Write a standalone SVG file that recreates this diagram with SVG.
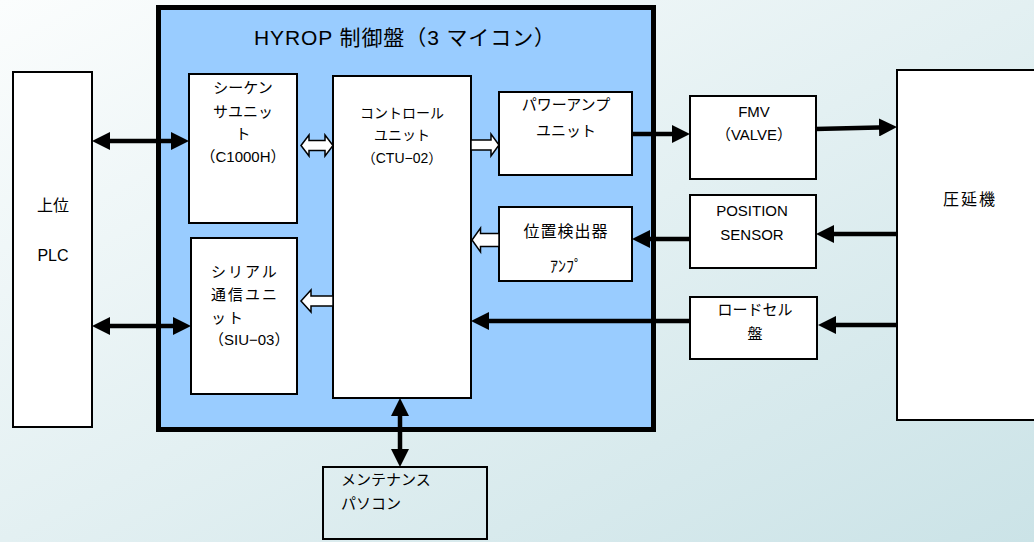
<svg xmlns="http://www.w3.org/2000/svg" width="1034" height="542" viewBox="0 0 1034 542">
<defs>
<linearGradient id="bg" x1="0" y1="0" x2="1" y2="1">
<stop offset="0" stop-color="#fbfdfd"/>
<stop offset="1" stop-color="#cbe3e7"/>
</linearGradient>
<marker id="ah" viewBox="0 0 18 18" refX="10" refY="9" markerWidth="18" markerHeight="18" markerUnits="userSpaceOnUse" orient="auto-start-reverse">
<path d="M0,0 L18,9 L0,18 z" fill="#000"/>
</marker>
<style>
.box{fill:#fff;stroke:#000;stroke-width:2}
.t{font-family:"Liberation Sans","Noto Sans CJK JP",sans-serif;fill:#000;font-size:14px}
.c{text-anchor:middle}
.ln{fill:none;stroke:#000;stroke-width:4.5}
.hol{fill:#fff;stroke:#000;stroke-width:1.5;stroke-linejoin:miter}
</style>
</defs>
<rect x="0" y="0" width="1034" height="542" fill="url(#bg)"/>

<g id="panel">
<rect x="158.5" y="7.5" width="495" height="422" fill="#99ccff" stroke="#000" stroke-width="5"/>
<text class="t c" x="405" y="45" style="font-size:21px;letter-spacing:0.9px">HYROP 制御盤（3 マイコン）</text>
</g>

<g id="plc">
<rect class="box" x="13" y="72" width="79" height="355" stroke-width="1.5"/>
<text class="t c" x="53" y="211" style="font-size:16px">上位</text>
<text class="t c" x="53" y="261" style="font-size:16px">PLC</text>
</g>

<g id="sequencer">
<rect class="box" x="189" y="74" width="108" height="149"/>
<text class="t c" x="243" y="93" style="font-size:15px">シーケン</text>
<text class="t c" x="243" y="117" style="font-size:15px">サユニッ</text>
<text class="t c" x="243" y="139" style="font-size:15px">ト</text>
<text class="t c" x="243" y="162" style="font-size:15px">（C1000H）</text>
</g>

<g id="serial">
<rect class="box" x="191" y="238" width="106" height="156"/>
<text class="t" x="211" y="277" style="font-size:15px;letter-spacing:2px">シリアル</text>
<text class="t" x="211" y="300" style="font-size:15px;letter-spacing:2px">通信ユニ</text>
<text class="t" x="211" y="323" style="font-size:15px;letter-spacing:2px">ット</text>
<text class="t" x="209" y="345" style="font-size:15px">（SIU−03）</text>
</g>

<g id="control">
<rect class="box" x="333" y="76" width="138" height="322"/>
<text class="t c" x="402" y="118">コントロール</text>
<text class="t c" x="402" y="140">ユニット</text>
<text class="t c" x="402" y="163">（CTU−02）</text>
</g>

<g id="poweramp">
<rect class="box" x="499" y="92" width="133" height="83"/>
<text class="t c" x="566" y="110" style="font-size:15px">パワーアンプ</text>
<text class="t c" x="566" y="136" style="font-size:15px">ユニット</text>
</g>

<g id="posamp">
<rect class="box" x="499" y="207" width="133" height="74"/>
<text class="t c" x="566" y="237" style="font-size:16px;letter-spacing:1px">位置検出器</text>
<text class="t c" x="566" y="272" style="font-size:16px">ｱﾝﾌﾟ</text>
</g>

<g id="fmv">
<rect class="box" x="690" y="96" width="126" height="83"/>
<text class="t c" x="754" y="117" style="font-size:15px">FMV</text>
<text class="t c" x="754" y="140" style="font-size:15px">（VALVE）</text>
</g>

<g id="possensor">
<rect class="box" x="690" y="195" width="126" height="73"/>
<text class="t c" x="752" y="216" style="font-size:15px">POSITION</text>
<text class="t c" x="752" y="240" style="font-size:15px">SENSOR</text>
</g>

<g id="loadcell">
<rect class="box" x="690" y="297" width="127" height="62"/>
<text class="t c" x="755" y="315" style="font-size:15px">ロードセル</text>
<text class="t c" x="755" y="339" style="font-size:15px">盤</text>
</g>

<g id="mill">
<rect class="box" x="897" y="70" width="150" height="350" stroke-width="1.5"/>
<text class="t c" x="970" y="205" style="font-size:16px;letter-spacing:2px">圧延機</text>
</g>

<g id="maintenance">
<rect x="323" y="467" width="164" height="72" fill="none" stroke="#000" stroke-width="2"/>
<text class="t" x="341" y="485" style="font-size:15px">メンテナンス</text>
<text class="t" x="341" y="509" style="font-size:15px">パソコン</text>
</g>

<g id="connectors">
<path class="ln" d="M100,141 H181" marker-start="url(#ah)" marker-end="url(#ah)"/>
<path class="ln" d="M100,326 H183" marker-start="url(#ah)" marker-end="url(#ah)"/>
<path class="ln" d="M631,134 H682" marker-end="url(#ah)"/>
<path class="ln" d="M815,129 L889,127.2" marker-end="url(#ah)"/>
<path class="ln" d="M691,239 H640" marker-end="url(#ah)"/>
<path class="ln" d="M897,234 H824" marker-end="url(#ah)"/>
<path class="ln" d="M690,321 H479" marker-end="url(#ah)"/>
<path class="ln" d="M897,325 H826" marker-end="url(#ah)"/>
<path class="ln" d="M400,406 V459" marker-start="url(#ah)" marker-end="url(#ah)"/>
<path class="hol" d="M301,145.5 L309,135 V140.5 H325 V135 L333,145.5 L325,156 V150.5 H309 V156 Z"/>
<path class="hol" d="M471,140 H491 V134 L499,145 L491,156 V150 H471 Z"/>
<path class="hol" d="M499,233.5 H480.5 V228 L472,240 L480.5,252 V246.5 H499 Z"/>
<path class="hol" d="M333,296 H311 V290 L301,301 L311,312 V306 H333 Z"/>
</g>
</svg>
